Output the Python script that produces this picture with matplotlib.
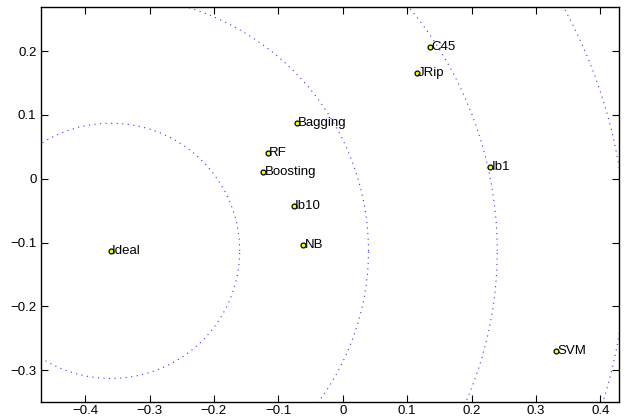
import numpy as np
import matplotlib.pyplot as plt

plt.rcParams['font.family'] = ['Liberation Sans', 'DejaVu Sans']

# classifier positions
names = ["Ideal", "Bagging", "RF", "Boosting", "Ib10", "NB", "C45", "JRip", "Ib1", "SVM"]
xs = [-0.360, -0.071, -0.116, -0.123, -0.076, -0.061, 0.136, 0.115, 0.229, 0.331]
ys = [-0.113, 0.088, 0.041, 0.010, -0.042, -0.104, 0.206, 0.165, 0.018, -0.270]
radii = [0.2, 0.4, 0.6, 0.8]

fig = plt.figure(figsize=(6.27, 4.19), dpi=100)
ax = fig.add_axes([0.0659, 0.0413, 0.9213, 0.9413])

# distance rings round the ideal point
t = np.linspace(0, 2 * np.pi, 720)
for r in radii:
    ax.plot(xs[0] + r * np.cos(t), ys[0] + r * np.sin(t), color='blue',
            linestyle=(0, (1, 4)), linewidth=0.8, alpha=0.8)

ax.plot(xs, ys, 'o', markersize=3.5, markerfacecolor='yellow',
        markeredgecolor='black', markeredgewidth=0.9)
for n, x, y in zip(names, xs, ys):
    ax.text(x + 0.002, y, n, fontsize=9.5, va='center', ha='left')

ax.set_xlim(-0.468, 0.429)
ax.set_ylim(-0.3495, 0.2687)
ax.set_xticks([-0.4, -0.3, -0.2, -0.1, 0, 0.1, 0.2, 0.3, 0.4])
ax.set_yticks([-0.3, -0.2, -0.1, 0, 0.1, 0.2])
ax.set_xticklabels(['\u22120.4', '\u22120.3', '\u22120.2', '\u22120.1', '0', '0.1', '0.2', '0.3', '0.4'])
ax.set_yticklabels(['\u22120.3', '\u22120.2', '\u22120.1', '0', '0.1', '0.2'])
ax.tick_params(direction='in', top=True, right=True, length=5, labelsize=9.5)
ax.tick_params(axis='x', pad=2.5)
for s in ax.spines.values():
    s.set_linewidth(1)

plt.savefig("out.png", dpi=100)
